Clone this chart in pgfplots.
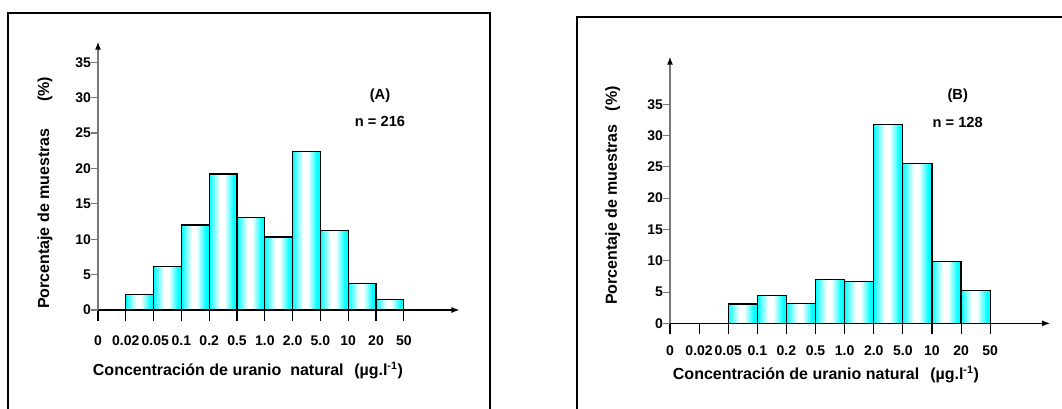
\documentclass[border=0pt]{standalone}
\usepackage{pgfplots}
\pgfplotsset{compat=1.18}
\usepackage{pgfplotstable}
\usetikzlibrary{arrows.meta}
\usepackage{fontspec}
\setmainfont{Liberation Sans}
\pgfdeclarehorizontalshading{barshade}{100bp}{color(0bp)=(cyan); color(25bp)=(cyan); color(44bp)=(white); color(52bp)=(white); color(69bp)=(cyan); color(100bp)=(cyan)}
\definecolor{axgray}{RGB}{120,120,120}

\pgfplotstableread{
x y
1 2.2
2 6.2
3 12.0
4 19.2
5 13.1
6 10.3
7 22.4
8 11.2
9 3.7
10 1.45
11 1.45
}\dataA

\pgfplotstableread{
x y
2 3.1
3 4.5
4 3.2
5 7.0
6 6.7
7 31.7
8 25.5
9 9.9
10 5.2
11 5.2
}\dataB

\newcommand\onebar[3]{\addplot[ybar interval, draw=black, line width=0.9pt, shade, shading=barshade,
  restrict x to domain=#2:#3] table[x=x,y=y] {#1};}

\pgfplotsset{histo/.style={
  axis lines=left,
  enlargelimits=false,
  xmin=0, ymin=0,
  x axis line style={line width=0.9pt, -{Latex[length=6pt,width=4.5pt]}},
  y axis line style={line width=1.1pt, axgray, -{Latex[length=6pt,width=4.5pt,color=black]}},
  tick align=outside,
  xtick={0,...,11},
  ytick={0,5,...,35},
  xtick style={black, line width=0.8pt, /pgfplots/major tick length=8.25pt},
  ytick style={axgray, line width=0.8pt, /pgfplots/major tick length=5pt},
  ticklabel style={font=\bfseries\fontsize{10.5}{12}\selectfont},
  /pgf/number format/assume math mode=true,
  yticklabel style={inner sep=0.8pt},
}}

\begin{document}
\begin{tikzpicture}
\useasboundingbox (0,0) rectangle (796.5pt,-306pt);
% frames
\draw[line width=1.5pt] (6pt,-420pt) -- (6pt,-9.75pt) -- (367.5pt,-9.75pt) -- (367.5pt,-420pt);
\draw[line width=1.5pt] (432.5pt,-420pt) -- (432.5pt,-12.5pt) -- (820pt,-12.5pt);

% Panel A
\begin{axis}[histo, at={(73.5pt,-232.5pt)}, anchor=south west,
  x=20.85pt, y=5.31pt, xmax=13, ymax=37.9,
  xticklabels={0,0.02\hspace{7pt},\hspace{2.5pt}0.05,0.1,0.2,0.5,1.0,2.0,5.0,10,20,50},
  xticklabel style={anchor=base, yshift=-22pt}]
\onebar{\dataA}{1}{2}
\onebar{\dataA}{2}{3}
\onebar{\dataA}{3}{4}
\onebar{\dataA}{4}{5}
\onebar{\dataA}{5}{6}
\onebar{\dataA}{6}{7}
\onebar{\dataA}{7}{8}
\onebar{\dataA}{8}{9}
\onebar{\dataA}{9}{10}
\onebar{\dataA}{10}{11}
\end{axis}

% Panel B
\begin{axis}[histo, at={(502.5pt,-242.5pt)}, anchor=south west,
  x=21.83pt, y=4.695pt, xmax=13.06, ymax=42.6,
  xticklabels={0,0.02\hspace{9pt},0.05,0.1,0.2,0.5,1.0,2.0,5.0,10,20,50},
  xticklabel style={anchor=base, yshift=-19.75pt}]
\onebar{\dataB}{2}{3}
\onebar{\dataB}{3}{4}
\onebar{\dataB}{4}{5}
\onebar{\dataB}{5}{6}
\onebar{\dataB}{6}{7}
\onebar{\dataB}{7}{8}
\onebar{\dataB}{8}{9}
\onebar{\dataB}{9}{10}
\onebar{\dataB}{10}{11}
\end{axis}

% labels A
\node[rotate=90, font=\bfseries\fontsize{12}{14}\selectfont] at (33.75pt,-144.7pt) {Porcentaje de muestras\hspace{20pt}(\%)};
\node[anchor=base west, inner sep=0pt, font=\bfseries\fontsize{12}{14}\selectfont] at (69.5pt,-281.8pt) {Concentración de uranio\ \ natural};
\node[anchor=base west, inner sep=0pt, font=\bfseries\fontsize{12}{14}\selectfont] at (265.5pt,-281.8pt) {(µg.l\textsuperscript{-1})};
\node[font=\bfseries\fontsize{11}{12}\selectfont] at (285pt,-71.8pt) {(A)};
\node[font=\bfseries\fontsize{11}{12}\selectfont] at (285pt,-91.3pt) {n = 216};

% labels B
\node[rotate=90, font=\bfseries\fontsize{12}{14}\selectfont] at (459.5pt,-146.6pt) {Porcentaje de muestras\hspace{10pt}(\%)};
\node[anchor=base west, inner sep=0pt, font=\bfseries\fontsize{12}{14}\selectfont] at (504.5pt,-284.25pt) {Concentración de uranio natural};
\node[anchor=base west, inner sep=0pt, font=\bfseries\fontsize{12}{14}\selectfont] at (697.5pt,-284.25pt) {(µg.l\textsuperscript{-1})};
\node[font=\bfseries\fontsize{11}{12}\selectfont] at (718.3pt,-71.8pt) {(B)};
\node[font=\bfseries\fontsize{11}{12}\selectfont] at (718.3pt,-91.7pt) {n = 128};
\end{tikzpicture}
\end{document}
